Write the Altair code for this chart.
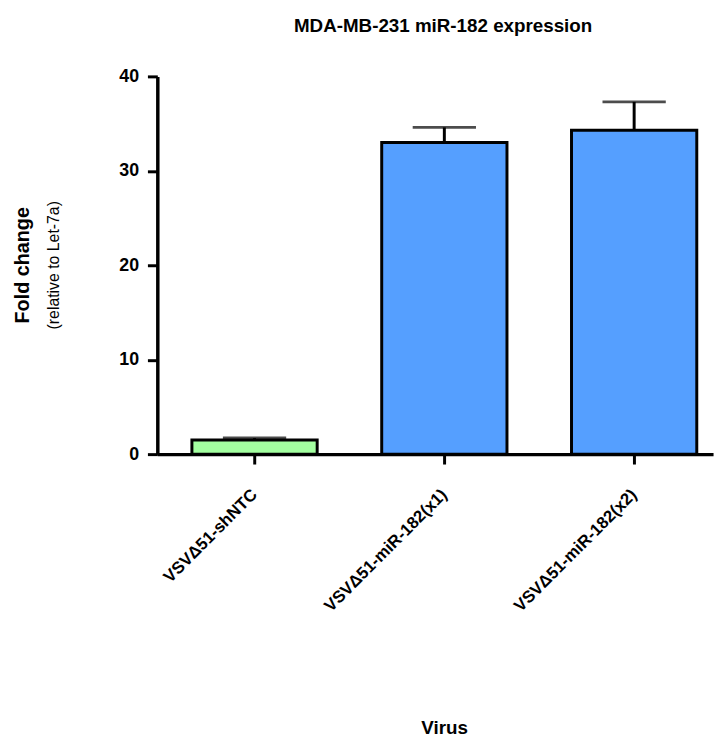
import altair as alt
import pandas as pd

categories = ["VSVΔ51-shNTC", "VSVΔ51-miR-182(x1)", "VSVΔ51-miR-182(x2)"]
means = [1.5, 33.0, 34.3]
sems = [0.2, 1.6, 3.0]
colors = ["#A3FFA0", "#559FFF", "#559FFF"]
y_ticks = [0, 10, 20, 30, 40]

df = pd.DataFrame({
    "virus": categories,
    "mean": means,
    "upper": [m + s for m, s in zip(means, sems)],
    "color": colors,
})

FONT = "Liberation Sans"

xscale = alt.Scale(domain=categories, paddingInner=0.34, paddingOuter=0.134, align=0.68)
yscale = alt.Scale(domain=[0, 40], nice=False, zero=True)

x_enc = alt.X(
    "virus:N", scale=xscale, sort=categories,
    axis=alt.Axis(
        title="Virus", labelAngle=-45, labelAlign="right", labelBaseline="middle",
        labelPadding=28, labelLimit=400, labelFontSize=17,
        titleFontSize=19, titleY=287, titleBaseline="bottom", titleX=290,
    ),
)
y_enc = alt.Y(
    "mean:Q", scale=yscale,
    axis=alt.Axis(title=None, values=y_ticks, labelPadding=9, labelFontSize=18),
)

bars = alt.Chart(df).mark_bar(stroke="black", strokeWidth=3).encode(
    x=x_enc, y=y_enc, color=alt.Color("color:N", scale=None)
)
err = alt.Chart(df).mark_rule(color="black", strokeWidth=3).encode(
    x=alt.X("virus:N", scale=xscale, sort=categories), y="mean:Q", y2="upper:Q"
)
caps = alt.Chart(df).mark_tick(color="black", thickness=3, size=64).encode(
    x=alt.X("virus:N", scale=xscale, sort=categories), y=alt.Y("upper:Q", scale=yscale)
)

t1 = alt.Chart(pd.DataFrame({"t": ["Fold change"]})).mark_text(
    angle=270, font=FONT, fontSize=20, fontWeight="bold", color="black", baseline="middle", align="center"
).encode(x=alt.value(-136), y=alt.value(191), text="t:N")
t2 = alt.Chart(pd.DataFrame({"t": ["(relative to Let-7a)"]})).mark_text(
    angle=270, font=FONT, fontSize=16, color="black", baseline="middle", align="center"
).encode(x=alt.value(-104), y=alt.value(191), text="t:N")

chart = alt.layer(bars, err, caps, t1, t2).properties(
    width=562, height=382,
    title=alt.TitleParams(
        "MDA-MB-231 miR-182 expression", font=FONT, fontSize=19, fontWeight="bold",
        color="black", offset=32, anchor="middle", dx=8,
    ),
).configure_view(stroke=None).configure_axis(
    grid=False, domainColor="black", domainWidth=3.5, tickColor="black", tickWidth=3,
    tickSize=10, labelFont=FONT, labelFontWeight="bold", labelColor="black",
    titleFont=FONT, titleFontWeight="bold", titleColor="black",
)

chart.save("out.html", embed_options={"renderer": "svg", "actions": False})
